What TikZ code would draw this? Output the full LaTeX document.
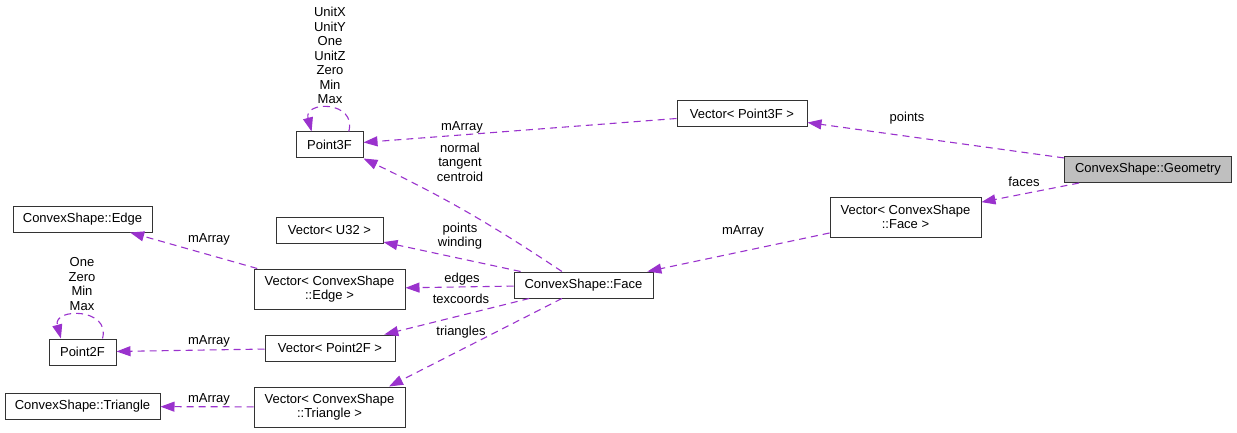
\documentclass[tikz,border=0pt]{standalone}
\usepackage{fontspec}
\setmainfont{Liberation Sans}
\usepackage{xcolor}
\usetikzlibrary{arrows,arrows.meta}
\definecolor{depcol}{HTML}{9A32CD}
\definecolor{rootfill}{HTML}{BFBFBF}

\begin{document}
\begin{tikzpicture}[x=1pt,y=-1pt]
        \tikzstyle{every node}+=[inner sep=0pt, font=\fontsize{13}{14.5}\selectfont]
        \tikzstyle{cls}=[draw=black!80, line width=1pt, fill=white, align=center, minimum height=26pt]
        \tikzstyle{cls2}=[cls, minimum height=40pt]
        \tikzstyle{dep}=[draw=depcol, line width=1.1pt, dash pattern=on 7pt off 5pt, -{Triangle[length=14pt,width=10pt]}]
        \tikzstyle{lbl}=[align=center]
        \useasboundingbox (0,0) rectangle (1237,433);
        % classes
        \node [cls, minimum width=67pt] (p3) at (329.5,145) {Point3F};
        \node [cls, minimum width=130pt] (vp3) at (742,113.5) {Vector< Point3F >};
        \node [cls, minimum width=167pt, fill=rootfill] (geom) at (1148,169.5) {ConvexShape::Geometry};
        \node [cls2, minimum width=151pt] (vf) at (905.5,217) {Vector< ConvexShape\\::Face >};
        \node [cls, minimum width=139pt] (face) at (583.5,285) {ConvexShape::Face};
        \node [cls, minimum width=107pt] (u32) at (329.5,230.5) {Vector< U32 >};
        \node [cls2, minimum width=151pt] (ve) at (329.5,289) {Vector< ConvexShape\\::Edge >};
        \node [cls, minimum width=130pt] (vp2) at (330,348) {Vector< Point2F >};
        \node [cls2, minimum width=151pt] (vt) at (329.5,407) {Vector< ConvexShape\\::Triangle >};
        \node [cls, minimum width=139pt] (edge) at (82.5,219) {ConvexShape::Edge};
        \node [cls, minimum width=67pt] (p2) at (82.5,352) {Point2F};
        \node [cls, minimum width=155pt] (tri) at (82.5,406.5) {ConvexShape::Triangle};
        % members
        \draw [dep] (geom) -- (vp3);
        \draw [dep] (geom) -- (vf);
        \draw [dep] (vp3) -- (p3);
        \draw [dep] (p3.35) .. controls +(75:32pt) and +(105:32pt) .. (p3.143);
        \draw [dep] (face.148) to[bend right=4] (p3.south east);
        \draw [dep] (vf) -- (face);
        \draw [dep] (face) -- (u32);
        \draw [dep] (face) -- (ve);
        \draw [dep] (face) -- (vp2);
        \draw [dep] (face.212) -- (vt.19);
        \draw [dep] (ve) -- (edge);
        \draw [dep] (vp2) -- (p2);
        \draw [dep] (p2.34) .. controls +(75:32pt) and +(105:32pt) .. (p2.148);
        \draw [dep] (vt) -- (tri);
        % labels
        \node [lbl] (lpoints) at (907,118) {points};
        \node [lbl] (lfaces) at (1024,182) {faces};
        \node [lbl] (lmarrp3) at (462,127) {mArray};
        \node [lbl] (lntc) at (460,162) {normal\\tangent\\centroid};
        \node [lbl] (lmarrf) at (743,231) {mArray};
        \node [lbl] (lpw) at (460,236) {points\\winding};
        \node [lbl] (ledges) at (462,279) {edges};
        \node [lbl] (ltex) at (461,299) {texcoords};
        \node [lbl] (ltris) at (461,332) {triangles};
        \node [lbl] (lmarre) at (209,239) {mArray};
        \node [lbl] (lmarrp2) at (209,341) {mArray};
        \node [lbl] (lmarrt) at (209,399) {mArray};
        \node [lbl] (lp3self) at (330,55.5) {UnitX\\UnitY\\One\\UnitZ\\Zero\\Min\\Max};
        \node [lbl] (lp2self) at (82,284) {One\\Zero\\Min\\Max};
\end{tikzpicture}
\end{document}
